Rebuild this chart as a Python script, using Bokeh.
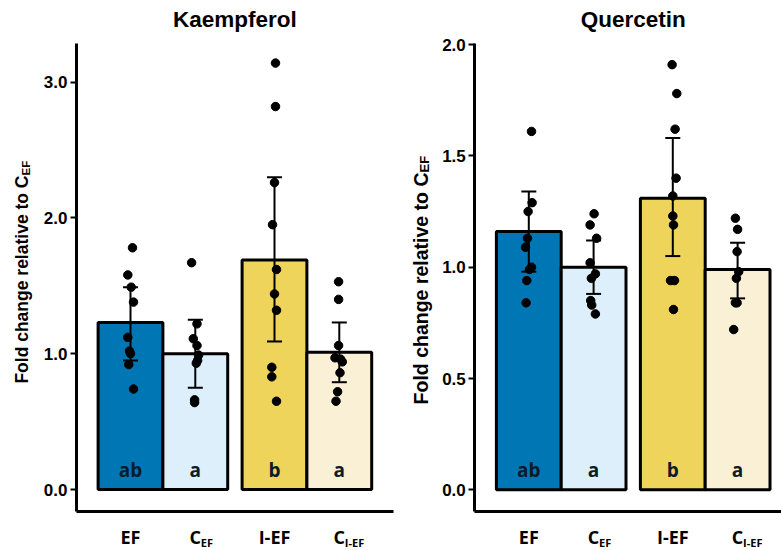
import numpy as np
from math import pi
from bokeh.plotting import figure
from bokeh.models import (ColumnDataSource, Range1d, FixedTicker, NumeralTickFormatter,
                          Whisker, TeeHead)
from bokeh.layouts import row
from bokeh.embed import file_html
from bokeh.resources import INLINE
from bokeh.core.properties import value

# ---------------- data ----------------
categories = ["EF", "C_EF", "I-EF", "C_I-EF"]
group_of = [1, 1, 2, 2]
side_of = [-1, 1, -1, 1]
sig_letters = ["ab", "a", "b", "a"]
bar_colors = ["#0077B4", "#DCEFFB", "#EFD45B", "#FAF0D6"]

# Kaempferol
k_mean = [1.23, 1.00, 1.69, 1.01]
k_upper = [1.49, 1.25, 2.30, 1.23]
k_lower = [0.95, 0.75, 1.09, 0.79]
k_pts_EF = [1.78, 1.58, 1.49, 1.38, 1.12, 1.02, 1.00, 0.92, 0.74]
k_pts_CEF = [1.67, 1.22, 1.11, 1.06, 0.99, 0.95, 0.93, 0.66, 0.64]
k_pts_IEF = [3.14, 2.82, 2.26, 1.95, 1.62, 1.44, 1.32, 0.90, 0.83, 0.65]
k_pts_CIEF = [1.53, 1.40, 1.06, 0.97, 0.96, 0.94, 0.86, 0.72, 0.65]
# horizontal jitter (pixels)
k_jit_EF = [2, -2.7, 0.7, 3, -2.7, -1, 0, -1.7, 3]
k_jit_CEF = [-3.7, 1.7, -2, 1.7, 3.3, 2.3, 1, -0.7, -0.7]
k_jit_IEF = [1, 1, 0, -2, 2, 0, 2, -2.7, -2.7, 2]
k_jit_CIEF = [-0.7, -0.7, -0.7, -4.3, 1.3, 3, 0.7, -1.7, -3.3]
k_yticks = [0, 1, 2, 3]

# Quercetin
q_mean = [1.16, 1.00, 1.31, 0.99]
q_upper = [1.34, 1.12, 1.58, 1.11]
q_lower = [0.98, 0.88, 1.05, 0.86]
q_pts_EF = [1.61, 1.29, 1.25, 1.13, 1.09, 1.00, 0.99, 0.94, 0.84]
q_pts_CEF = [1.24, 1.19, 1.13, 1.02, 0.97, 0.95, 0.85, 0.83, 0.79]
q_pts_IEF = [1.91, 1.78, 1.62, 1.40, 1.32, 1.23, 1.19, 0.94, 0.94, 0.81]
q_pts_CIEF = [1.22, 1.17, 1.07, 0.98, 0.95, 0.84, 0.84, 0.72]
q_jit_EF = [2.7, 3.3, -0.7, -1.3, -3.3, 2.7, 0.7, -2, -2.7]
q_jit_CEF = [0.5, -3.5, 3, -3.5, 1.8, -2.2, -2.9, -1.9, 1.8]
q_jit_IEF = [-0.7, 4, 2.3, 3.3, 0, 0, 0.7, -2.3, 1.7, 0.7]
q_jit_CIEF = [-2.2, 0, -0.5, 1.1, -1.2, -2.2, -0.5, -3.9]
q_yticks = [0, 0.5, 1.0, 1.5, 2.0]

# ---------------- layout constants ----------------
DODGE = 0.9
BAR_W = DODGE / 2
PX_PER_UNIT = 144.0     # horizontal scale
HEIGHT = 550
AXIS_X = 0.4            # data x of the y axis (panel left edge)
AX_FONT = "Liberation Sans"
LBL_FONT = "Open Sans"


def make_panel(title, mean, upper, lower, pts, jit, yticks,
               y_lo, y_hi, y_px_per_unit, zero_px,
               width, axis_px, ylab_dx, ylab_dy, ylab_size, ysub_size):
    # whole canvas is the frame; axes are placed at fixed locations inside it
    x_start = AXIS_X - axis_px / PX_PER_UNIT
    x_end = x_start + width / PX_PER_UNIT
    y_start = -(HEIGHT - zero_px) / y_px_per_unit
    y_end = zero_px / y_px_per_unit
    p = figure(width=width, height=HEIGHT, x_range=Range1d(x_start, x_end),
               y_range=Range1d(y_start, y_end), output_backend="svg",
               toolbar_location=None, min_border=0,
               min_border_left=0, min_border_right=0,
               min_border_top=0, min_border_bottom=0)
    p.title.visible = False
    p.outline_line_color = None
    p.grid.visible = False
    p.background_fill_color = "white"
    p.border_fill_color = "white"

    xpos = np.array(group_of, dtype=float) + np.array(side_of) * BAR_W / 2

    bars = ColumnDataSource(dict(x=xpos, top=mean, color=bar_colors,
                                 upper=upper, lower=lower))
    p.vbar(x="x", top="top", bottom=0, width=BAR_W, source=bars,
           fill_color="color", line_color="black", line_width=3)

    px, py = [], []
    for i, (vals, js) in enumerate(zip(pts, jit)):
        for v, j in zip(vals, js):
            px.append(xpos[i] + j / PX_PER_UNIT)
            py.append(v)
    p.scatter(px, py, size=8.5, color="black")

    w = Whisker(source=bars, base="x", upper="upper", lower="lower",
                line_color="black", line_width=2, level="annotation",
                upper_head=TeeHead(size=15, line_color="black", line_width=2),
                lower_head=TeeHead(size=15, line_color="black", line_width=2))
    p.add_layout(w)

    x_right = min(x_end, 2.6)

    # y axis
    ya = p.yaxis[0]
    ya.fixed_location = AXIS_X
    ya.bounds = (y_lo, y_hi)
    ya.ticker = FixedTicker(ticks=yticks)
    ya.formatter = NumeralTickFormatter(format="0.0")
    ya.minor_tick_line_color = None
    ya.major_tick_in = 0
    ya.major_tick_out = 6
    ya.major_tick_line_width = 2
    ya.axis_line_width = 3
    ya.major_label_standoff = 3
    ya.major_label_text_font = AX_FONT
    ya.major_label_text_font_style = "bold"
    ya.major_label_text_font_size = "17px"
    ya.major_label_text_color = "black"

    # x axis: line only
    xa = p.xaxis[0]
    xa.fixed_location = y_lo
    xa.bounds = (AXIS_X, x_right)
    xa.ticker = FixedTicker(ticks=[])
    xa.major_label_text_font_size = "0px"
    xa.major_tick_line_color = None
    xa.minor_tick_line_color = None
    xa.axis_line_width = 3

    # title
    p.text(x=[1.5], y=[y_hi], text=[title], y_offset=-24,
           text_align="center", text_baseline="middle",
           text_font=value(AX_FONT), text_font_style="bold",
           text_font_size=value("22.5px"), text_color="black")
    # y axis label (rotated, with subscript)
    p.text(x=[AXIS_X], y=[y_lo], text=["Fold change relative to C"],
           x_offset=ylab_dx, y_offset=-ylab_dy, angle=pi / 2,
           text_align="right", text_baseline="middle",
           text_font=value(AX_FONT), text_font_style="bold",
           text_font_size=value(ylab_size), text_color="black")
    p.text(x=[AXIS_X], y=[y_lo], text=["EF"],
           x_offset=ylab_dx + 4, y_offset=-ylab_dy, angle=pi / 2,
           text_align="left", text_baseline="middle",
           text_font=value(AX_FONT), text_font_style="bold",
           text_font_size=value(ysub_size), text_color="black")

    # category labels
    main_txt = [c[0] if c.startswith("C_") else c for c in categories]
    p.text(x=list(xpos), y=[y_lo] * 4, text=main_txt, y_offset=25.3,
           text_align="center", text_baseline="middle",
           text_font=value(LBL_FONT), text_font_style="bold",
           text_font_size=value("18px"), text_color="black")
    sub_idx = [i for i, c in enumerate(categories) if c.startswith("C_")]
    p.text(x=[xpos[i] for i in sub_idx], y=[y_lo] * len(sub_idx),
           text=[categories[i][2:] for i in sub_idx], x_offset=5.5, y_offset=30.7,
           text_align="left", text_baseline="middle",
           text_font=value(LBL_FONT), text_font_style="bold",
           text_font_size=value("11px"), text_color="black")
    # significance letters
    p.text(x=list(xpos), y=[0] * 4, text=sig_letters, y_offset=-20,
           text_align="center", text_baseline="middle",
           text_font=value(LBL_FONT), text_font_style="bold",
           text_font_size=value("19px"), text_color="#0d1b2a")
    return p


k_pts = [k_pts_EF, k_pts_CEF, k_pts_IEF, k_pts_CIEF]
k_jit = [k_jit_EF, k_jit_CEF, k_jit_IEF, k_jit_CIEF]
q_pts = [q_pts_EF, q_pts_CEF, q_pts_IEF, q_pts_CIEF]
q_jit = [q_jit_EF, q_jit_CEF, q_jit_IEF, q_jit_CIEF]

left = make_panel("Kaempferol", k_mean, k_upper, k_lower, k_pts, k_jit, k_yticks,
                  y_lo=-0.162, y_hi=3.284, y_px_per_unit=135.8, zero_px=489,
                  width=405, axis_px=76, ylab_dx=-55, ylab_dy=336,
                  ylab_size="17.5px", ysub_size="11.5px")
right = make_panel("Quercetin", q_mean, q_upper, q_lower, q_pts, q_jit, q_yticks,
                   y_lo=-0.0975, y_hi=2.005, y_px_per_unit=222.6, zero_px=489.3,
                   width=376, axis_px=69.3, ylab_dx=-54, ylab_dy=339,
                   ylab_size="19.5px", ysub_size="13px")

layout = row(left, right)
open("out.html", "w").write(file_html(layout, INLINE))
